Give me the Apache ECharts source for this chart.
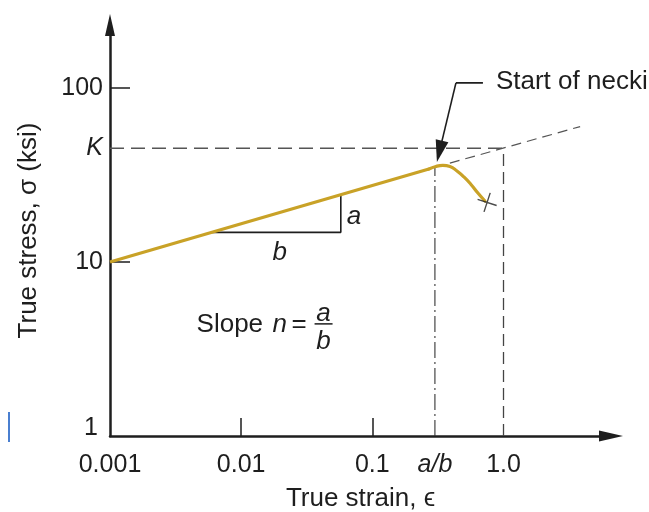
<!DOCTYPE html>
<html>
<head>
<meta charset="utf-8">
<script src="https://cdn.jsdelivr.net/npm/echarts@6/dist/echarts.min.js"></script>
<style>
  html, body { margin: 0; padding: 0; background: #fff; }
  #main { width: 649px; height: 512px; }
</style>
</head>
<body>
<div id="main"></div>
<script>
// log-log true stress / true strain curve
var FONT = "'Liberation Sans', Arial, sans-serif";
var INK = '#1e1e1e';

var strainTicks = [0.001, 0.01, 0.1, 0.3, 1];
var strainTickText = ['0.001', '0.01', '0.1', '{it|a/b}', '1.0'];
var stressTicks = [1, 10, 45, 100];
var stressTickText = ['{one|1}', '10', '{it|K}', '100'];

var K = 45;
var AB = 0.3;

// straight part (slope n) and the necking part
var strainLinear = [0.001, 0.27];
var stressLinear = [10, 34.2];
var strainNeck = [0.27, 0.305, 0.345, 0.391, 0.442, 0.499, 0.565, 0.638, 0.722];
var stressNeck = [34.2, 35.4, 35.9, 35.4, 33.3, 30.8, 27.9, 24.9, 22.4];
var fracture = [0.75, 22];

// extrapolated power law through K at strain 1.0
var strainExtra = [0.39, 3.84];
var stressExtra = [37, 60];

// slope triangle
var strainTri = [0.00596, 0.0575, 0.0575];
var stressTri = [14.8, 14.8, 24.4];

// "start of necking" pointer
var pointerFlat = [[0.697, 107], [0.434, 107]];
var pointerDiag = [[0.434, 107], [0.325, 43.2]];

function zip(xs, ys) {
  return xs.map(function (x, i) { return [x, ys[i]]; });
}
function pick(list, text, v) {
  for (var i = 0; i < list.length; i++) {
    if (Math.abs(Math.log10(v) - Math.log10(list[i])) < 1e-6) return text[i];
  }
  return '';
}

var chart = echarts.init(document.getElementById('main'), null, { renderer: 'canvas' });

var option = {
  animation: false,
  backgroundColor: '#fff',
  grid: { left: 110, right: 38, top: 25, bottom: 76, containLabel: false, outerBoundsMode: 'none' },
  xAxis: {
    type: 'log',
    min: 0.001,
    max: 6.6,
    name: 'True strain, ϵ',
    nameLocation: 'middle',
    nameGap: 50,
    nameTextStyle: { fontFamily: FONT, fontSize: 26, color: INK },
    splitLine: { show: false },
    axisLine: {
      lineStyle: { color: INK, width: 2.5 },
      symbol: ['none', 'path://M5,0L10,22L0,22Z'],
      symbolSize: [15, 24]
    },
    axisTick: { inside: true, length: 18, customValues: [0.01, 0.1], lineStyle: { color: INK, width: 1.5 } },
    axisLabel: {
      customValues: strainTicks,
      margin: 17,
      fontFamily: FONT,
      fontSize: 25,
      color: INK,
      formatter: function (v) { return pick(strainTicks, strainTickText, v); },
      rich: { it: { fontFamily: FONT, fontSize: 25, fontStyle: 'italic', color: INK } }
    }
  },
  yAxis: {
    type: 'log',
    min: 1,
    max: 230,
    name: 'True stress, σ (ksi)',
    nameLocation: 'middle',
    nameGap: 68,
    nameTextStyle: { fontFamily: FONT, fontSize: 26, color: INK },
    splitLine: { show: false },
    axisLine: {
      lineStyle: { color: INK, width: 2.5 },
      symbol: ['none', 'path://M5,0L10,22L0,22Z'],
      symbolSize: [14, 22]
    },
    axisTick: { inside: true, length: 20, customValues: [10, 100], lineStyle: { color: INK, width: 1.5 } },
    axisLabel: {
      customValues: stressTicks,
      margin: 7,
      fontFamily: FONT,
      fontSize: 25,
      color: INK,
      formatter: function (v) { return pick(stressTicks, stressTickText, v); },
      rich: {
        it: { fontFamily: FONT, fontSize: 25, fontStyle: 'italic', color: INK },
        one: { fontFamily: FONT, fontSize: 25, color: INK, padding: [0, 5, 16, 0] }
      }
    }
  },
  series: [
    {
      name: 'K level',
      type: 'line',
      data: [[0.001, K], [1, K]],
      symbol: 'none',
      lineStyle: { color: '#555', width: 1.5, type: [14, 7] },
      silent: true
    },
    {
      name: 'strain 1.0',
      type: 'line',
      data: [[1, 1], [1, K]],
      symbol: 'none',
      lineStyle: { color: '#444', width: 1.3, type: [12, 6] },
      silent: true
    },
    {
      name: 'a/b',
      type: 'line',
      data: [[AB, 1], [AB, 35]],
      symbol: 'none',
      lineStyle: { color: '#333', width: 1.1, type: [16, 4, 2, 4] },
      silent: true
    },
    {
      name: 'extrapolation',
      type: 'line',
      data: zip(strainExtra, stressExtra),
      symbol: 'none',
      lineStyle: { color: '#555', width: 1.2, type: [10, 6] },
      silent: true
    },
    {
      name: 'triangle',
      type: 'line',
      data: zip(strainTri, stressTri),
      symbol: 'none',
      lineStyle: { color: INK, width: 1.6 },
      silent: true
    },
    {
      name: 'linear',
      type: 'line',
      data: zip(strainLinear, stressLinear),
      symbol: 'none',
      lineStyle: { color: '#C9A227', width: 3.2 },
      z: 5,
      silent: true
    },
    {
      name: 'necking',
      type: 'line',
      data: zip(strainNeck, stressNeck),
      symbol: 'none',
      smooth: 0.5,
      lineStyle: { color: '#C9A227', width: 3.2, cap: 'round', join: 'round' },
      z: 5,
      silent: true
    },
    {
      name: 'fracture',
      type: 'scatter',
      data: [fracture],
      symbol: 'path://M10,0L10,20M0,10L20,10',
      symbolSize: 20,
      symbolRotate: -18,
      itemStyle: { color: 'none', borderColor: INK, borderWidth: 1.4 },
      z: 6,
      silent: true
    },
    {
      name: 'pointer flat',
      type: 'line',
      data: pointerFlat,
      symbol: 'none',
      lineStyle: { color: INK, width: 1.6 },
      silent: true
    },
    {
      name: 'pointer',
      type: 'lines',
      coordinateSystem: 'cartesian2d',
      data: [{ coords: pointerDiag }],
      symbol: ['none', 'path://M5,0L10,22L0,22Z'],
      symbolSize: [0, [13, 22]],
      lineStyle: { color: INK, width: 1.6, opacity: 1 },
      itemStyle: { color: INK },
      z: 7,
      silent: true
    }
  ]
};

chart.setOption(option);

// annotations anchored in data space
function px(x, y) { return chart.convertToPixel({ gridIndex: 0 }, [x, y]); }
function txt(x, y, s, italic, align) {
  return {
    type: 'text', x: x, y: y, silent: true,
    style: {
      text: s, fill: INK,
      font: (italic ? 'italic ' : '') + '26px ' + FONT,
      textAlign: align || 'left', textVerticalAlign: 'middle'
    }
  };
}

var slope = px(0.00457, 4.35);
var aPos = px(strainTri[2], 18.2);
var bPos = px(0.0197, stressTri[0]);
var neck = px(pointerFlat[0][0], pointerFlat[0][1]);

chart.setOption({
  graphic: [
    txt(slope[0], slope[1], 'Slope', false),
    txt(slope[0] + 76, slope[1], 'n', true),
    txt(slope[0] + 95, slope[1], '=', false),
    txt(slope[0] + 127, slope[1] - 11, 'a', true, 'center'),
    {
      type: 'line', silent: true,
      shape: { x1: slope[0] + 118, y1: slope[1] - 1, x2: slope[0] + 136, y2: slope[1] - 1 },
      style: { stroke: INK, lineWidth: 1.5 }
    },
    txt(slope[0] + 127, slope[1] + 17, 'b', true, 'center'),
    txt(aPos[0] + 6, aPos[1], 'a', true),
    txt(bPos[0], bPos[1] + 20, 'b', true, 'center'),
    txt(neck[0] + 13, neck[1] - 1, 'Start of necking', false),
    {
      type: 'line', silent: true,
      shape: { x1: 9, y1: 412, x2: 9, y2: 442 },
      style: { stroke: '#4a7fd0', lineWidth: 2 }
    }
  ]
});
</script>
</body>
</html>
